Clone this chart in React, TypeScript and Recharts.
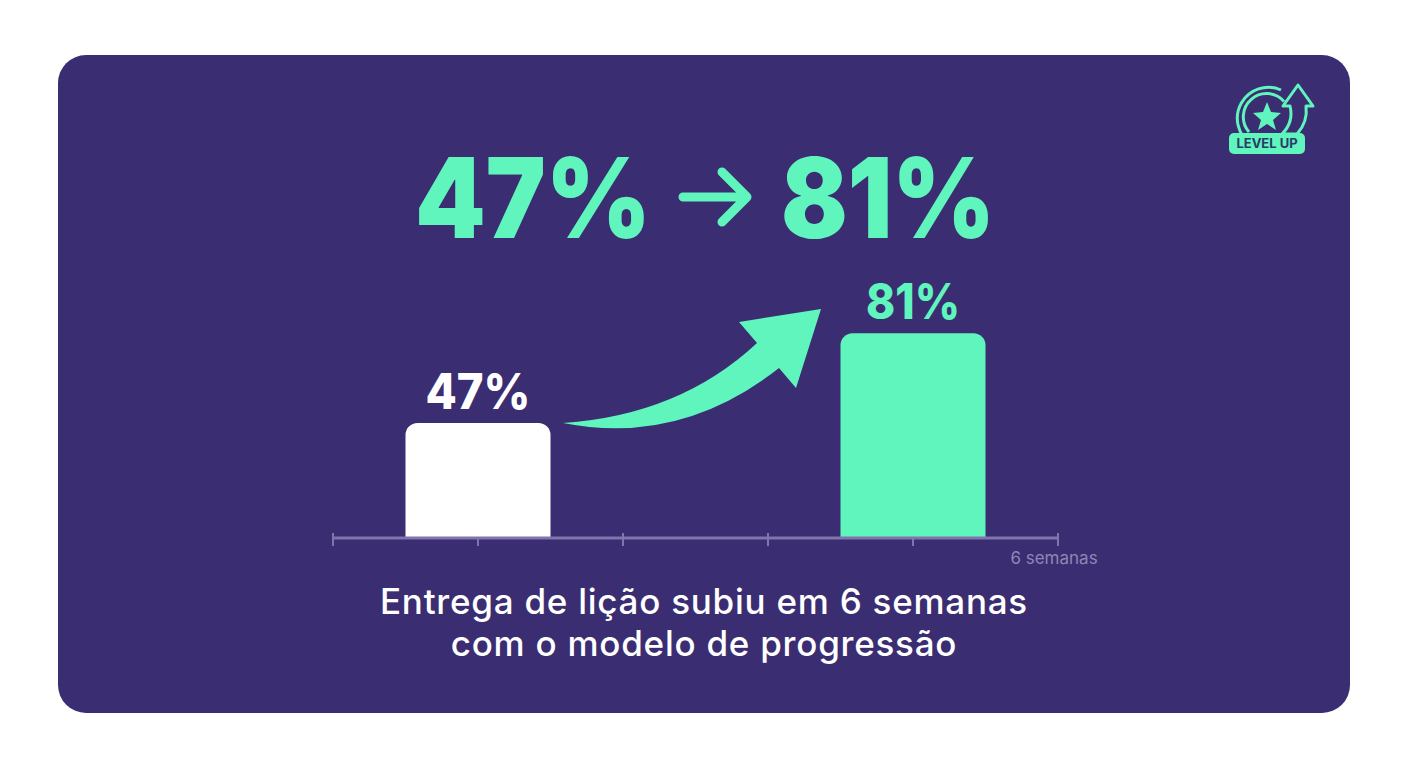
import { BarChart, Bar, XAxis, YAxis, Cell, LabelList } from 'recharts'

const weeks = [1, 4]
const values = [47, 81]
const barColors = ['#ffffff', '#5ff5bd']
const axisTicks = [0, 1, 2, 3, 4, 5]
const headlineLeft = '47%'
const headlineRight = '81%'
const axisNote = '6 semanas'
const captionLines = ['Entrega de lição subiu em 6 semanas', 'com o modelo de progressão']
const badgeText = 'LEVEL UP'

const MINT = '#5ff5bd'
const CARD = '#3b2d72'
const AXIS = '#8175ad'
const FONT = 'Inter, "Open Sans", sans-serif'

const data = weeks.map((week, i) => ({ week, value: values[i], color: barColors[i] }))

// ticks sit on the bars' feet, so the ones under a bar only show below the line
function AxisTick({ x, y, payload }: any) {
  const underBar = weeks.includes(payload.value)
  return <line x1={x} x2={x} y1={underBar ? y - 7 : y - 13} y2={y} stroke={AXIS} strokeWidth={2} />
}

function BarValue({ x, y, width, index }: any) {
  return (
    <text
      x={x + width / 2}
      y={y - 14}
      textAnchor="middle"
      fill={barColors[index]}
      fontFamily={FONT}
      fontSize={49}
      fontWeight={800}
      textLength={index === 0 ? 105 : 94}
      lengthAdjust="spacingAndGlyphs"
    >
      {`${values[index]}%`}
    </text>
  )
}

function Logo() {
  return (
    <g>
      <path d="M1281 90 A31 31 0 0 0 1251 144" fill="none" stroke={MINT} strokeWidth={3} />
      <path d="M1249 132 A23 23 0 0 1 1284 101.5" fill="none" stroke={MINT} strokeWidth={3} />
      <path
        d="M1267 102 L1271 112 L1281 113 L1273 120 L1276 130 L1267 124 L1258 130 L1261 120 L1253 113 L1263 112 Z"
        fill={MINT}
      />
      <path
        d="M1298 85 L1313 106 L1306 106 Q1308 122 1297 134 L1282 134 Q1294 122 1290 106 L1283 106 Z"
        fill={CARD}
        stroke={MINT}
        strokeWidth={3}
        strokeLinejoin="round"
      />
      <rect x={1229} y={133} width={76} height={21} rx={5} fill={MINT} />
      <text x={1267} y={148} textAnchor="middle" fill="#2b3a68" fontFamily={FONT} fontSize={13} fontWeight={700}>
        {badgeText}
      </text>
    </g>
  )
}

export default function App() {
  return (
    <div style={{ position: 'absolute', left: 0, top: 0, width: 1408, height: 768, background: '#fff', overflow: 'hidden' }}>
      <div style={{ position: 'absolute', left: 58, top: 55, width: 1292, height: 658, borderRadius: 28, background: CARD }} />
      <div style={{ position: 'absolute', left: 0, top: 0 }}>
        <BarChart width={1408} height={768} data={data} margin={{ top: 283, right: 350, bottom: 200, left: 333 }}>
          <XAxis
            dataKey="week"
            type="number"
            domain={[0, 5]}
            ticks={axisTicks}
            axisLine={{ stroke: AXIS, strokeWidth: 3 }}
            tickLine={false}
            tick={AxisTick as any}
            height={30}
            interval={0}
          />
          <YAxis hide domain={[3.5, 100]} allowDataOverflow />
          <Bar dataKey="value" barSize={145} radius={[12, 12, 0, 0]} isAnimationActive={false}>
            {data.map((d) => (
              <Cell key={d.week} fill={d.color} />
            ))}
            <LabelList dataKey="value" content={BarValue as any} />
          </Bar>

          <text x={415} y={238} fill={MINT} fontFamily={FONT} fontSize={111} fontWeight={900} textLength={236} lengthAdjust="spacingAndGlyphs">
            {headlineLeft}
          </text>
          <text x={781} y={238} fill={MINT} fontFamily={FONT} fontSize={111} fontWeight={900} textLength={214} lengthAdjust="spacingAndGlyphs">
            {headlineRight}
          </text>
          <path d="M683 197 L746 197 M722 172 L747 197 L722 222" fill="none" stroke={MINT} strokeWidth={9} strokeLinecap="round" strokeLinejoin="round" />

          <path d="M563 423 Q680 415 757 343 L739 322 L821 309 L796 388 L779 368 Q680 446 563 423 Z" fill={MINT} />

          <text x={1054} y={564} textAnchor="middle" fill="#8f86b5" fontFamily={FONT} fontSize={17}>
            {axisNote}
          </text>
          <text x={704} y={614} textAnchor="middle" fill="#fff" fontFamily={FONT} fontSize={35} fontWeight={500} letterSpacing={0.75}>
            {captionLines[0]}
          </text>
          <text x={704} y={656} textAnchor="middle" fill="#fff" fontFamily={FONT} fontSize={35} fontWeight={500} letterSpacing={0.75}>
            {captionLines[1]}
          </text>
          <Logo />
        </BarChart>
      </div>
    </div>
  )
}
